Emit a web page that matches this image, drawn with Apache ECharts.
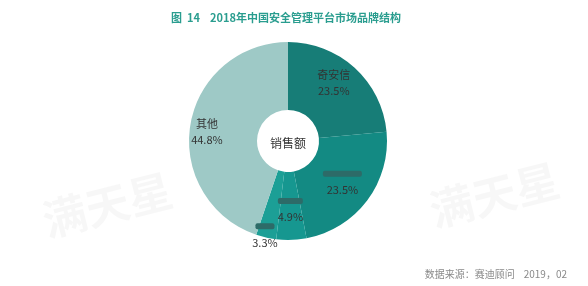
<!DOCTYPE html>
<html>
<head>
<meta charset="utf-8">
<script src="https://cdn.jsdelivr.net/npm/echarts@6/dist/echarts.min.js"></script>
<style>
  html, body { margin: 0; padding: 0; background: #fff; }
  #chart { width: 588px; height: 286px; }
</style>
</head>
<body>
<div id="chart"></div>
<script>
// brand names, three of them are redacted in the source picture
const brands = ['奇安信', '', '', '', '其他']
const shares = [23.5, 23.5, 4.9, 3.3, 44.8]
const sliceColors = ['#177d77', '#138a83', '#169790', '#1c9f96', '#9ec9c6']
const barWidths = [0, 39, 25, 19, 0]
const labelOffsets = [[0, -8], [0, 0], [0, 0], [-8, 27], [-14, 2]]

const chart = echarts.init(document.getElementById('chart'))

const font = '"Noto Sans CJK SC", "Noto Sans", sans-serif'

const option = {
  backgroundColor: '#fff',
  animation: false,
  title: [{
    text: '图  14    2018年中国安全管理平台市场品牌结构',
    left: 281,
    textAlign: 'center',
    top: 7,
    textStyle: { color: '#2a9d8f', fontSize: 11, fontWeight: 'bold', fontFamily: font }
  }, {
    text: '数据来源：赛迪顾问    2019，02',
    right: 16,
    top: 264,
    textStyle: { color: '#8a8a8a', fontSize: 10, fontWeight: 'normal', fontFamily: font }
  }],
  graphic: [
    { type: 'text', x: 38, y: 200, rotation: 0.25,
      style: { text: '满天星', font: 'bold 44px ' + font, fill: 'rgba(0,0,0,0.03)' } },
    { type: 'text', x: 425, y: 190, rotation: 0.25,
      style: { text: '满天星', font: 'bold 44px ' + font, fill: 'rgba(0,0,0,0.03)' } },
    { type: 'text', x: 288, y: 143, z: 10,
      style: { text: '销售额', align: 'center', verticalAlign: 'middle',
        font: '12px ' + font, fill: '#333' } }
  ],
  series: [{
    type: 'pie',
    center: [288, 141],
    radius: [31, 99],
    startAngle: 90,
    clockwise: true,
    silent: true,
    label: {
      position: 'inside',
      color: '#333',
      fontSize: 11,
      fontFamily: font,
      lineHeight: 16
    },
    labelLine: { show: false },
    data: shares.map((v, i) => {
      const name = brands[i] || ('品牌' + i)
      let fmt
      if (brands[i]) {
        fmt = brands[i] + '\n' + v.toFixed(1) + '%'
      } else {
        fmt = '{bar|}\n{p|' + v.toFixed(1) + '%}'
      }
      return {
        name: name,
        value: v,
        itemStyle: { color: sliceColors[i] },
        label: {
          formatter: fmt,
          offset: labelOffsets[i],
          rich: {
            bar: { width: barWidths[i], height: 6, backgroundColor: '#2d6b68', borderRadius: 2 },
            p: { color: '#333', fontSize: 11, fontFamily: font, lineHeight: 16 }
          }
        }
      }
    })
  }]
}

chart.setOption(option)
</script>
</body>
</html>
